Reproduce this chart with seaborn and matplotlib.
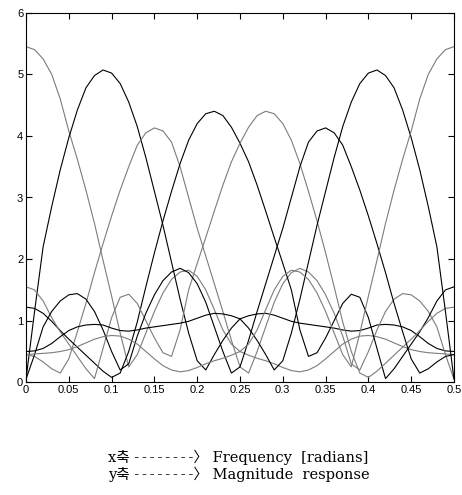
import numpy as np
import pandas as pd
import matplotlib
matplotlib.use("Agg")
import matplotlib.pyplot as plt
import seaborn as sns

# sample grid of the frequency axis (0 .. 0.5, step 0.01)
freq = np.linspace(0.0, 0.5, 51)

# magnitude responses (8 filters, mirror pairs about 0.25)
band1 = [5.45, 5.40, 5.25, 5.00, 4.60, 4.08, 3.62, 3.12, 2.58, 1.98, 1.40, 0.80, 0.25, 0.45, 0.80, 1.15, 1.45,
         1.67, 1.79, 1.82, 1.72, 1.50, 1.18, 0.85, 0.62, 0.50, 0.44, 0.39, 0.35, 0.30, 0.24, 0.19, 0.17, 0.20,
         0.27, 0.38, 0.50, 0.62, 0.70, 0.75, 0.76, 0.74, 0.70, 0.64, 0.58, 0.53, 0.50, 0.48, 0.47, 0.46, 0.45]
band2 = [0.05, 1.15, 2.20, 2.85, 3.45, 3.97, 4.42, 4.78, 4.98, 5.07, 5.02, 4.85, 4.55, 4.15, 3.65, 3.10, 2.55,
         1.95, 1.35, 0.80, 0.35, 0.20, 0.45, 0.68, 0.88, 1.03, 1.08, 1.11, 1.12, 1.09, 1.04, 0.99, 0.96, 0.94,
         0.92, 0.90, 0.88, 0.85, 0.83, 0.84, 0.88, 0.93, 0.94, 0.93, 0.90, 0.84, 0.74, 0.63, 0.55, 0.51, 0.50]
band3 = [0.45, 0.42, 0.33, 0.22, 0.15, 0.38, 0.82, 1.28, 1.78, 2.25, 2.70, 3.12, 3.50, 3.85, 4.05, 4.13, 4.08,
         3.90, 3.50, 3.00, 2.50, 2.05, 1.60, 1.15, 0.68, 0.25, 0.15, 0.50, 0.90, 1.30, 1.60, 1.78, 1.85, 1.79,
         1.65, 1.42, 1.12, 0.75, 0.30, 0.20, 0.50, 0.85, 1.15, 1.35, 1.44, 1.42, 1.32, 1.15, 0.90, 0.45, 0.05]
band4 = [1.22, 1.20, 1.12, 0.99, 0.84, 0.70, 0.57, 0.44, 0.31, 0.18, 0.08, 0.15, 0.50, 0.98, 1.55, 2.10, 2.62,
         3.10, 3.55, 3.93, 4.20, 4.36, 4.40, 4.33, 4.14, 3.88, 3.58, 3.20, 2.78, 2.35, 1.93, 1.50, 0.85, 0.42,
         0.48, 0.72, 1.00, 1.28, 1.43, 1.38, 1.05, 0.55, 0.06, 0.22, 0.42, 0.62, 0.82, 1.05, 1.32, 1.50, 1.55]
band5 = [1.55, 1.50, 1.32, 1.05, 0.82, 0.62, 0.42, 0.22, 0.06, 0.55, 1.05, 1.38, 1.43, 1.28, 1.00, 0.72, 0.48,
         0.42, 0.85, 1.50, 1.93, 2.35, 2.78, 3.20, 3.58, 3.88, 4.14, 4.33, 4.40, 4.36, 4.20, 3.93, 3.55, 3.10,
         2.62, 2.10, 1.55, 0.98, 0.50, 0.15, 0.08, 0.18, 0.31, 0.44, 0.57, 0.70, 0.84, 0.99, 1.12, 1.20, 1.22]
band6 = [0.05, 0.45, 0.90, 1.15, 1.32, 1.42, 1.44, 1.35, 1.15, 0.85, 0.50, 0.20, 0.30, 0.75, 1.12, 1.42, 1.65,
         1.79, 1.85, 1.78, 1.60, 1.30, 0.90, 0.50, 0.15, 0.25, 0.68, 1.15, 1.60, 2.05, 2.50, 3.00, 3.50, 3.90,
         4.08, 4.13, 4.05, 3.85, 3.50, 3.12, 2.70, 2.25, 1.78, 1.28, 0.82, 0.38, 0.15, 0.22, 0.33, 0.42, 0.45]
band7 = [0.50, 0.51, 0.55, 0.63, 0.74, 0.84, 0.90, 0.93, 0.94, 0.93, 0.88, 0.84, 0.83, 0.85, 0.88, 0.90, 0.92,
         0.94, 0.96, 0.99, 1.04, 1.09, 1.12, 1.11, 1.08, 1.03, 0.88, 0.68, 0.45, 0.20, 0.35, 0.80, 1.35, 1.95,
         2.55, 3.10, 3.65, 4.15, 4.55, 4.85, 5.02, 5.07, 4.98, 4.78, 4.42, 3.97, 3.45, 2.85, 2.20, 1.15, 0.05]
band8 = [0.45, 0.46, 0.47, 0.48, 0.50, 0.53, 0.58, 0.64, 0.70, 0.74, 0.76, 0.75, 0.70, 0.62, 0.50, 0.38, 0.27,
         0.20, 0.17, 0.19, 0.24, 0.30, 0.35, 0.39, 0.44, 0.50, 0.62, 0.85, 1.18, 1.50, 1.72, 1.82, 1.79, 1.67,
         1.45, 1.15, 0.80, 0.45, 0.25, 0.80, 1.40, 1.98, 2.58, 3.12, 3.62, 4.08, 4.60, 5.00, 5.25, 5.40, 5.45]

bands = [band1, band2, band3, band4, band5, band6, band7, band8]
band_names = ["h1", "h2", "h3", "h4", "h5", "h6", "h7", "h8"]
line_colors = ["#7c7c7c", "#000000", "#7c7c7c", "#000000", "#7c7c7c", "#000000", "#000000", "#7c7c7c"]

x_ticks = [0, 0.05, 0.1, 0.15, 0.2, 0.25, 0.3, 0.35, 0.4, 0.45, 0.5]
x_tick_labels = ["0", "0.05", "0.1", "0.15", "0.2", "0.25", "0.3", "0.35", "0.4", "0.45", "0.5"]
y_ticks = [0, 1, 2, 3, 4, 5, 6]

# note under the chart
note_lines = ["x축 -\u2009-\u2009-\u2009-\u2009-\u2009-\u2009-\u2009-〉 Frequency  [radians]",
              "y축 -\u2009-\u2009-\u2009-\u2009-\u2009-\u2009-\u2009-〉 Magnitude  response"]

# long table for seaborn
df = pd.concat([pd.DataFrame({"freq": freq, "mag": vals, "band": name})
                for name, vals in zip(band_names, bands)], ignore_index=True)

sns.set_theme(style="ticks")
plt.rcParams["font.family"] = ["Liberation Sans", "DejaVu Sans"]

fig = plt.figure(figsize=(4.62, 4.95), dpi=100)
ax = fig.add_axes([26 / 462, 1 - 382.3 / 495, 428 / 462, 369.6 / 495])

sns.lineplot(data=df, x="freq", y="mag", hue="band", palette=dict(zip(band_names, line_colors)),
             linewidth=0.8, legend=False, ax=ax, sort=False, estimator=None)

ax.set_xlim(0, 0.5)
ax.set_ylim(0, 6)
ax.set_xticks(x_ticks)
ax.set_xticklabels(x_tick_labels)
ax.set_yticks(y_ticks)
ax.set_xlabel("")
ax.set_ylabel("")
ax.tick_params(direction="in", top=True, right=True, length=4, width=0.8,
               labelsize=8, colors="black", pad=2)
for side in ["left", "right", "top", "bottom"]:
    ax.spines[side].set_visible(True)
    ax.spines[side].set_color("black")
    ax.spines[side].set_linewidth(0.8)

serif = ["DejaVu Serif", "Noto Sans CJK KR"]
for i, line in enumerate(note_lines):
    fig.text(108 / 462, 1 - (457 + 17 * i) / 495, line, ha="left", va="center",
             fontsize=10.5, family=serif, color="black")

fig.savefig("out.png", dpi=100, facecolor="white")
